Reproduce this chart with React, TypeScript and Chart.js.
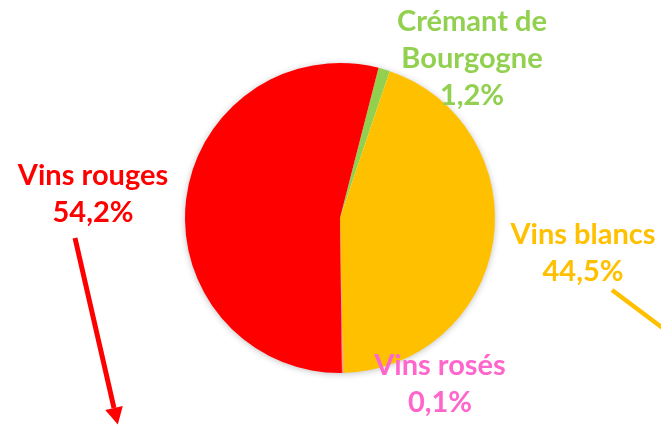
import React, { useEffect, useRef } from "react";
import { Chart, registerables } from "chart.js";

Chart.register(...registerables);

const categories = ["Crémant de Bourgogne", "Vins blancs", "Vins rosés", "Vins rouges"];
const labelLines = [["Crémant de", "Bourgogne"], ["Vins blancs"], ["Vins rosés"], ["Vins rouges"]];
const values = [1.2, 44.5, 0.1, 54.2];
const colors = ["#92D050", "#FFC000", "#FF66CC", "#FF0000"];
const textColors = ["#92D050", "#FFC000", "#FF66CC", "#FF0000"];

// label layout (centre x, first baseline y)
const labelPos = [
  { x: 472, y: 31 },
  { x: 583, y: 244 },
  { x: 440, y: 375 },
  { x: 93, y: 185 },
];

const FONT = "bold 29px Lato, 'Open Sans', sans-serif";
const LINE_H = 37;

const labelPlugin = {
  id: "wineLabels",
  beforeDatasetsDraw(chart: any) {
    const meta = chart.getDatasetMeta(0);
    const arc = meta.data[0];
    if (!arc) return;
    const { x, y, outerRadius } = arc.getProps(["x", "y", "outerRadius"], true);
    const ctx = chart.ctx;
    ctx.save();
    ctx.shadowColor = "rgba(0,0,0,0.28)";
    ctx.shadowBlur = 7;
    ctx.shadowOffsetX = 0;
    ctx.shadowOffsetY = 1;
    ctx.fillStyle = "#ffffff";
    ctx.beginPath();
    ctx.arc(x, y, outerRadius - 0.5, 0, Math.PI * 2);
    ctx.fill();
    ctx.restore();
  },
  afterDraw(chart: any) {
    const ctx = chart.ctx;
    ctx.save();
    ctx.font = FONT;
    ctx.textAlign = "center";
    ctx.textBaseline = "alphabetic";
    values.forEach((v, i) => {
      const lines = [...labelLines[i], v.toFixed(1).replace(".", ",") + "%"];
      ctx.fillStyle = textColors[i];
      lines.forEach((t, j) => {
        ctx.fillText(t, labelPos[i].x, labelPos[i].y + j * LINE_H);
      });
    });

    // red arrow
    ctx.strokeStyle = "#FF0000";
    ctx.fillStyle = "#FF0000";
    ctx.lineWidth = 5;
    ctx.lineCap = "butt";
    const x1 = 75, y1 = 238, x2 = 114, y2 = 408;
    ctx.beginPath();
    ctx.moveTo(x1, y1);
    ctx.lineTo(x2, y2);
    ctx.stroke();
    const ang = Math.atan2(y2 - y1, x2 - x1);
    const tipX = x2 + Math.cos(ang) * 17, tipY = y2 + Math.sin(ang) * 17;
    const px = -Math.sin(ang), py = Math.cos(ang);
    ctx.beginPath();
    ctx.moveTo(tipX, tipY);
    ctx.lineTo(x2 + px * 9, y2 + py * 9);
    ctx.lineTo(x2 - px * 9, y2 - py * 9);
    ctx.closePath();
    ctx.fill();

    // yellow leader line
    ctx.strokeStyle = "#FFC000";
    ctx.lineWidth = 4.5;
    ctx.beginPath();
    ctx.moveTo(612, 290);
    ctx.lineTo(668, 332);
    ctx.stroke();
    ctx.restore();
  },
};

export default function App() {
  const ref = useRef<HTMLCanvasElement>(null);
  useEffect(() => {
    document.body.style.margin = "0";
    const chart = new Chart(ref.current!, {
      type: "pie",
      data: {
        labels: categories,
        datasets: [
          {
            data: values,
            backgroundColor: colors,
            borderWidth: 0,
          },
        ],
      },
      options: {
        responsive: false,
        animation: false,
        rotation: 14.4,
        layout: { padding: { left: 185, right: 166, top: 63, bottom: 52 } },
        plugins: {
          legend: { display: false },
          tooltip: { enabled: false },
        },
      },
      plugins: [labelPlugin],
    });
    return () => chart.destroy();
  }, []);
  return (
    <div style={{ width: 661, height: 425, background: "#fff" }}>
      <canvas ref={ref} width={661} height={425} style={{ display: "block" }} />
    </div>
  );
}
